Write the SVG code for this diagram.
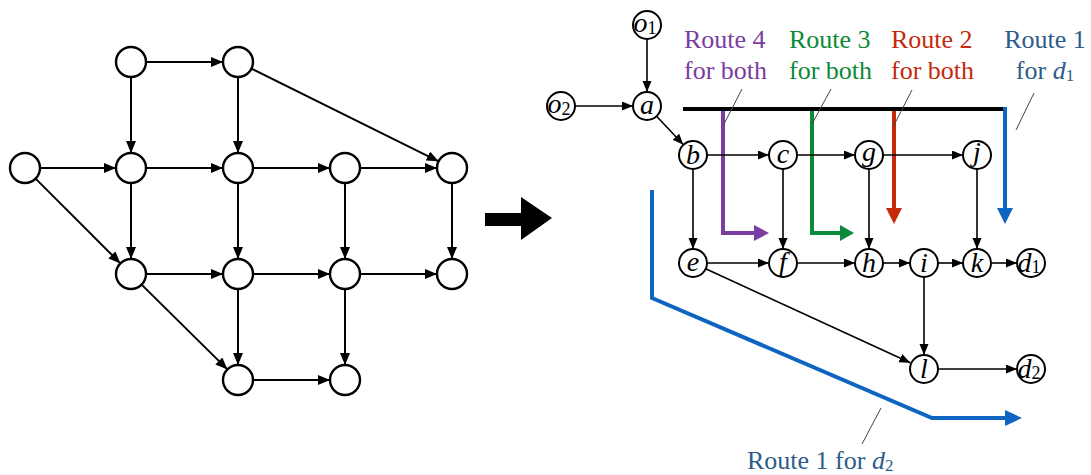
<svg xmlns="http://www.w3.org/2000/svg" width="1091" height="475" viewBox="0 0 1091 475">
  <style>
    .nodeL { fill: #fff; stroke: #000; stroke-width: 2.4; }
    .nodeR { fill: #fff; stroke: #000; stroke-width: 2; }
    .edgeL { stroke: #000; stroke-width: 2; fill: none; marker-end: url(#headL); }
    .edgeR { stroke: #000; stroke-width: 1.6; fill: none; marker-end: url(#headR); }
    .lbl { font-family: "Liberation Serif", "Times New Roman", serif; font-style: italic; font-size: 28px; text-anchor: middle; fill: #000; }
    .sub { font-style: normal; font-size: 18px; }
    .cap { font-family: "Liberation Serif", "Times New Roman", serif; font-size: 26px; }
    .leader { stroke: #444; stroke-width: 1; fill: none; }
    .route { fill: none; stroke-width: 4; stroke-linejoin: miter; }
  </style>
  <defs>
    <marker id="headL" markerUnits="userSpaceOnUse" markerWidth="13" markerHeight="10" refX="12" refY="5" orient="auto">
      <path d="M0,0 L12,5 L0,10 z" fill="#000"/>
    </marker>
    <marker id="headR" markerUnits="userSpaceOnUse" markerWidth="12" markerHeight="10" refX="11" refY="4.5" orient="auto">
      <path d="M0,0 L11,4.5 L0,9 z" fill="#000"/>
    </marker>
  </defs>

  <!-- Left network -->
  <g id="left-connectors">
    <line class="edgeL" x1="146" y1="62" x2="223" y2="62"/>
    <line class="edgeL" x1="131" y1="77" x2="131" y2="153"/>
    <line class="edgeL" x1="238" y1="77" x2="238" y2="153"/>
    <line class="edgeL" x1="251.4" y1="68.7" x2="438.6" y2="161.3"/>
    <line class="edgeL" x1="40" y1="168" x2="116" y2="168"/>
    <line class="edgeL" x1="35.6" y1="178.6" x2="120.4" y2="263.4"/>
    <line class="edgeL" x1="146" y1="168" x2="223" y2="168"/>
    <line class="edgeL" x1="253" y1="168" x2="330" y2="168"/>
    <line class="edgeL" x1="360" y1="168" x2="437" y2="168"/>
    <line class="edgeL" x1="131" y1="183" x2="131" y2="259"/>
    <line class="edgeL" x1="238" y1="183" x2="238" y2="259"/>
    <line class="edgeL" x1="345" y1="183" x2="345" y2="259"/>
    <line class="edgeL" x1="452" y1="183" x2="452" y2="259"/>
    <line class="edgeL" x1="146" y1="274" x2="223" y2="274"/>
    <line class="edgeL" x1="253" y1="274" x2="330" y2="274"/>
    <line class="edgeL" x1="360" y1="274" x2="437" y2="274"/>
    <line class="edgeL" x1="141.6" y1="284.6" x2="227.4" y2="369.4"/>
    <line class="edgeL" x1="238" y1="289" x2="238" y2="365"/>
    <line class="edgeL" x1="345" y1="289" x2="345" y2="365"/>
    <line class="edgeL" x1="253" y1="380" x2="330" y2="380"/>
  </g>
  <g id="n-top1"><circle class="nodeL" cx="131" cy="62" r="15"/></g>
  <g id="n-top2"><circle class="nodeL" cx="238" cy="62" r="15"/></g>
  <g id="n-src"><circle class="nodeL" cx="25" cy="168" r="15"/></g>
  <g id="n-r2c1"><circle class="nodeL" cx="131" cy="168" r="15"/></g>
  <g id="n-r2c2"><circle class="nodeL" cx="238" cy="168" r="15"/></g>
  <g id="n-r2c3"><circle class="nodeL" cx="345" cy="168" r="15"/></g>
  <g id="n-r2c4"><circle class="nodeL" cx="452" cy="168" r="15"/></g>
  <g id="n-r3c1"><circle class="nodeL" cx="131" cy="274" r="15"/></g>
  <g id="n-r3c2"><circle class="nodeL" cx="238" cy="274" r="15"/></g>
  <g id="n-r3c3"><circle class="nodeL" cx="345" cy="274" r="15"/></g>
  <g id="n-r3c4"><circle class="nodeL" cx="452" cy="274" r="15"/></g>
  <g id="n-r4c2"><circle class="nodeL" cx="238" cy="380" r="15"/></g>
  <g id="n-r4c3"><circle class="nodeL" cx="345" cy="380" r="15"/></g>

  <!-- Block arrow between the two networks -->
  <g id="transform-arrow">
    <polygon points="485,213 521,213 521,197 552,218 521,240 521,226 485,226" fill="#000"/>
  </g>

  <!-- Routes (drawn beneath the right network) -->
  <g id="routes">
    <line x1="683" y1="109" x2="1007" y2="109" stroke="#000" stroke-width="4"/>
    <path class="route" stroke="#0E64C1" d="M1005,107 V209"/>
    <polygon points="997,208 1013,208 1005,224" fill="#0E64C1"/>
    <path class="route" stroke="#C42A0C" d="M894,111 V209"/>
    <polygon points="886,208 902,208 894,224" fill="#C42A0C"/>
    <path class="route" stroke="#0B8A3A" d="M812,111 V233 H841"/>
    <polygon points="840,225 840,241 854,233" fill="#0B8A3A"/>
    <path class="route" stroke="#7A3DA0" d="M723,111 V233 H755"/>
    <polygon points="754,225 754,241 769,233" fill="#7A3DA0"/>
    <path class="route" stroke="#0E64C1" d="M652,190 V298 L932,418 H1006"/>
    <polygon points="1005,410 1005,426 1022,418" fill="#0E64C1"/>
  </g>

  <!-- Right network connectors -->
  <g id="right-connectors">
    <line class="edgeR" x1="647" y1="39" x2="647" y2="92"/>
    <line class="edgeR" x1="575" y1="106" x2="633" y2="106"/>
    <line class="edgeR" x1="656.6" y1="116.2" x2="683.4" y2="144.8"/>
    <line class="edgeR" x1="707" y1="155" x2="769" y2="155"/>
    <line class="edgeR" x1="797" y1="155" x2="855" y2="155"/>
    <line class="edgeR" x1="883" y1="155" x2="963" y2="155"/>
    <line class="edgeR" x1="693" y1="169" x2="693" y2="249"/>
    <line class="edgeR" x1="783" y1="169" x2="783" y2="249"/>
    <line class="edgeR" x1="869" y1="169" x2="869" y2="249"/>
    <line class="edgeR" x1="977" y1="169" x2="977" y2="249"/>
    <line class="edgeR" x1="707" y1="263" x2="769" y2="263"/>
    <line class="edgeR" x1="797" y1="263" x2="855" y2="263"/>
    <line class="edgeR" x1="883" y1="263" x2="910" y2="263"/>
    <line class="edgeR" x1="938" y1="263" x2="963" y2="263"/>
    <line class="edgeR" x1="991" y1="263" x2="1017" y2="263"/>
    <line class="edgeR" x1="705.7" y1="268.8" x2="910.3" y2="362.8"/>
    <line class="edgeR" x1="924" y1="277" x2="924" y2="355"/>
    <line class="edgeR" x1="938" y1="369" x2="1017" y2="369"/>
  </g>

  <!-- Right network nodes -->
  <g id="o1"><circle class="nodeR" cx="647" cy="25" r="14"/><text class="lbl" x="645" y="32">o<tspan class="sub" dy="2">1</tspan></text></g>
  <g id="o2"><circle class="nodeR" cx="561" cy="106" r="14"/><text class="lbl" x="559" y="113">o<tspan class="sub" dy="2">2</tspan></text></g>
  <g id="a"><circle class="nodeR" cx="647" cy="106" r="14"/><text class="lbl" x="647" y="114">a</text></g>
  <g id="b"><circle class="nodeR" cx="693" cy="155" r="14"/><text class="lbl" x="693" y="164">b</text></g>
  <g id="c"><circle class="nodeR" cx="783" cy="155" r="14"/><text class="lbl" x="783" y="163">c</text></g>
  <g id="g"><circle class="nodeR" cx="869" cy="155" r="14"/><text class="lbl" x="869" y="161">g</text></g>
  <g id="j"><circle class="nodeR" cx="977" cy="155" r="14"/><text class="lbl" x="977" y="161">j</text></g>
  <g id="e"><circle class="nodeR" cx="693" cy="263" r="14"/><text class="lbl" x="693" y="271">e</text></g>
  <g id="f"><circle class="nodeR" cx="783" cy="263" r="14"/><text class="lbl" x="783" y="271">f</text></g>
  <g id="h"><circle class="nodeR" cx="869" cy="263" r="14"/><text class="lbl" x="869" y="272">h</text></g>
  <g id="i"><circle class="nodeR" cx="924" cy="263" r="14"/><text class="lbl" x="924" y="272">i</text></g>
  <g id="k"><circle class="nodeR" cx="977" cy="263" r="14"/><text class="lbl" x="977" y="272">k</text></g>
  <g id="d1"><circle class="nodeR" cx="1031" cy="263" r="14"/><text class="lbl" x="1029" y="272">d<tspan class="sub" dy="1">1</tspan></text></g>
  <g id="l"><circle class="nodeR" cx="924" cy="369" r="14"/><text class="lbl" x="924" y="378">l</text></g>
  <g id="d2"><circle class="nodeR" cx="1031" cy="369" r="14"/><text class="lbl" x="1029" y="378">d<tspan class="sub" dy="1">2</tspan></text></g>

  <!-- Route captions and leader lines -->
  <g id="route4-label">
    <text class="cap" fill="#7A3DA0"><tspan x="684" y="48">Route 4</tspan><tspan x="684" y="79">for both</tspan></text>
    <line class="leader" x1="742" y1="89" x2="724" y2="124"/>
  </g>
  <g id="route3-label">
    <text class="cap" fill="#0B8A3A"><tspan x="789" y="48">Route 3</tspan><tspan x="789" y="79">for both</tspan></text>
    <line class="leader" x1="831" y1="89" x2="812" y2="124"/>
  </g>
  <g id="route2-label">
    <text class="cap" fill="#C42A0C"><tspan x="891" y="48">Route 2</tspan><tspan x="891" y="79">for both</tspan></text>
    <line class="leader" x1="912" y1="90" x2="893" y2="127"/>
  </g>
  <g id="route1-d1-label">
    <text class="cap" fill="#2E5C8A" text-anchor="middle"><tspan x="1045" y="48">Route 1</tspan><tspan x="1045" y="79">for <tspan font-style="italic">d</tspan><tspan font-size="17" dy="2">1</tspan></tspan></text>
    <line class="leader" x1="1034" y1="93" x2="1016" y2="130"/>
  </g>
  <g id="route1-d2-label">
    <text class="cap" fill="#2E5C8A" x="747" y="469">Route 1 for <tspan font-style="italic">d</tspan><tspan font-size="17" dy="2">2</tspan></text>
    <line class="leader" x1="881" y1="408" x2="862" y2="444"/>
  </g>
</svg>
